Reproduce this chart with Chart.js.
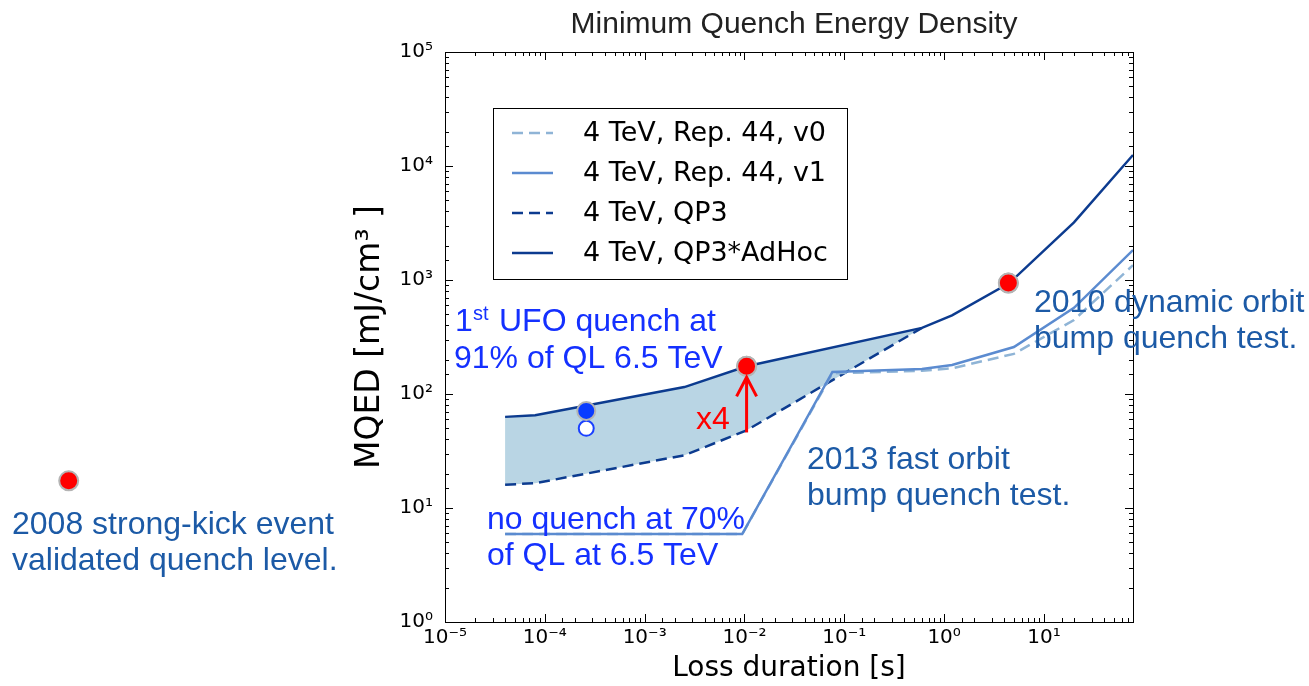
<!DOCTYPE html>
<html>
<head>
<meta charset="utf-8">
<title>Minimum Quench Energy Density</title>
<script src="https://cdn.jsdelivr.net/npm/chart.js@4.4.1/dist/chart.umd.min.js"></script>
<style>
  html, body { margin: 0; padding: 0; background: #fff; }
  canvas { display: block; }
</style>
</head>
<body>
<canvas id="mqedChart" width="1309" height="686"></canvas>
<script>
// loss duration [s] and MQED [mJ/cm3]
const durAdHoc = [4e-5, 8e-5, 2.5e-3, 1.05e-2, 0.6, 1.2, 4.5, 20, 78];
const mqedAdHoc = [63, 65, 115, 175, 380, 490, 940, 3200, 12500];
const durQP3 = [4e-5, 8e-5, 2.5e-3, 1.05e-2, 0.6];
const mqedQP3 = [16, 16.5, 29, 48, 380];
const durRep44 = [4e-5, 9.5e-3, 0.076, 0.6, 1.2, 5, 20, 78];
const mqedRep44v1 = [5.9, 5.9, 156, 166, 180, 258, 570, 1830];
const mqedRep44v0 = [5.9, 5.9, 152, 160, 168, 225, 446, 1350];

// measured events: 2013 fast bump, 2010 dynamic bump, 2008 strong kick
const eventDur = [1.05e-2, 4.4, 1.7e-9];
const eventMqed = [175, 940, 17.3];
const ufoDur = [2.6e-4];
const ufoMqed = [71];
const noQuenchMqed = [50];
const arrowDur = [1.05e-2, 1.05e-2];
const arrowMqed = [46, 140];

const legendLabels = ['4 TeV, Rep. 44, v0', '4 TeV, Rep. 44, v1', '4 TeV, QP3', '4 TeV, QP3*AdHoc'];
const xDecades = [1e-5, 1e-4, 1e-3, 1e-2, 1e-1, 1, 10];
const xDecadeLabels = ['10⁻⁵', '10⁻⁴', '10⁻³', '10⁻²', '10⁻¹', '10⁰', '10¹'];
const yDecades = [1, 10, 100, 1e3, 1e4, 1e5];
const yDecadeLabels = ['10⁰', '10¹', '10²', '10³', '10⁴', '10⁵'];

const NAVY = '#0c3b8f';
const MID = '#5b8bd0';
const LIGHT = '#8fb4d6';
const BAND = '#b9d5e4';
const TEAL = '#1c5aa6';
const BLUE = '#1430ff';
const NOTE_FONT = '32px "Liberation Sans", Arial';

const pts = (xs, ys) => xs.map((x, i) => ({x: x, y: ys[i]}));
const isDecade = v => Math.abs(Math.log10(v) - Math.round(Math.log10(v))) < 1e-6;
const labelFor = (decades, labels, v) => {
    const i = decades.findIndex(d => Math.abs(Math.log10(d) - Math.log10(v)) < 1e-6);
    return i < 0 ? '' : labels[i];
};

// frame, inward ticks, legend box, arrow head and text notes
const decorations = {
    id: 'decorations',
    afterDraw(chart) {
        const {ctx, chartArea: a, scales: {x, y}} = chart;
        ctx.save();

        // event markers that sit outside the axes (2008 kick) are skipped by the controller
        const wide = {left: -1e5, top: -1e5, right: 1e5, bottom: 1e5};
        chart.getDatasetMeta(0).data.forEach(el => el.draw(ctx, wide));

        ctx.strokeStyle = '#000';
        ctx.lineWidth = 1;
        ctx.strokeRect(a.left + 0.5, a.top + 0.5, a.right - a.left, a.bottom - a.top);
        ctx.beginPath();
        x.ticks.forEach(t => {
            const px = Math.round(x.getPixelForValue(t.value)) + 0.5;
            const len = isDecade(t.value) ? 8 : 4;
            ctx.moveTo(px, a.bottom); ctx.lineTo(px, a.bottom - len);
            ctx.moveTo(px, a.top); ctx.lineTo(px, a.top + len);
        });
        y.ticks.forEach(t => {
            const py = Math.round(y.getPixelForValue(t.value)) + 0.5;
            const len = isDecade(t.value) ? 8 : 4;
            ctx.moveTo(a.left, py); ctx.lineTo(a.left + len, py);
            ctx.moveTo(a.right, py); ctx.lineTo(a.right - len, py);
        });
        ctx.stroke();

        // legend (v0, v1, QP3, AdHoc)
        ctx.fillStyle = '#fff';
        ctx.fillRect(493, 108, 354, 171);
        ctx.strokeRect(493.5, 108.5, 354, 171);
        ctx.font = '27px "DejaVu Sans"';
        ctx.textBaseline = 'middle';
        [5, 4, 6, 7].forEach((di, k) => {
            const ds = chart.data.datasets[di];
            const yy = 133 + k * 40;
            ctx.strokeStyle = ds.borderColor;
            ctx.lineWidth = ds.borderWidth;
            ctx.setLineDash(ds.borderDash || []);
            ctx.beginPath();
            ctx.moveTo(512, yy); ctx.lineTo(553, yy);
            ctx.stroke();
            ctx.setLineDash([]);
            ctx.fillStyle = '#000';
            ctx.fillText(legendLabels[k], 583, yy + 1);
        });

        // arrow head on the x4 arrow
        const tip = chart.getDatasetMeta(3).data[1];
        ctx.strokeStyle = '#ff0000';
        ctx.lineWidth = 3;
        ctx.beginPath();
        ctx.moveTo(tip.x - 10, tip.y + 19);
        ctx.lineTo(tip.x, tip.y);
        ctx.lineTo(tip.x + 10, tip.y + 19);
        ctx.stroke();

        // title
        ctx.fillStyle = '#222';
        ctx.textBaseline = 'alphabetic';
        ctx.textAlign = 'center';
        ctx.font = '30px "Liberation Sans", Arial';
        ctx.fillText('Minimum Quench Energy Density', 794, 33);

        // notes
        ctx.textAlign = 'left';
        ctx.font = NOTE_FONT;
        const notes = [
            {lines: ['2008 strong-kick event', 'validated quench level.'], x: 12, y: 534, color: TEAL},
            {lines: ['2013 fast orbit', 'bump quench test.'], x: 807, y: 469, color: TEAL},
            {lines: ['2010 dynamic orbit', 'bump quench test.'], x: 1034, y: 312, color: TEAL},
            {lines: ['no quench at 70%', 'of QL at 6.5 TeV'], x: 487, y: 529, color: BLUE},
            {lines: ['91% of QL 6.5 TeV'], x: 454, y: 368, color: BLUE}
        ];
        notes.forEach(n => {
            ctx.fillStyle = n.color;
            n.lines.forEach((s, i) => ctx.fillText(s, n.x, n.y + i * 36));
        });
        ctx.fillStyle = BLUE;
        ctx.fillText('1', 455, 331);
        ctx.font = '20px "Liberation Sans", Arial';
        ctx.fillText('st', 473, 320);
        ctx.font = NOTE_FONT;
        ctx.fillText('UFO quench at', 499, 331);
        ctx.fillStyle = '#ff0000';
        ctx.fillText('x4', 696, 429);
        ctx.restore();
    }
};

new Chart(document.getElementById('mqedChart'), {
    type: 'line',
    data: {
        datasets: [
            {
                label: 'events',
                data: pts(eventDur, eventMqed),
                showLine: false,
                clip: false,
                pointRadius: 9.5,
                pointBackgroundColor: '#ff0000',
                pointBorderColor: '#b4b4b4',
                pointBorderWidth: 2
            },
            {
                label: 'UFO quench',
                data: pts(ufoDur, ufoMqed),
                showLine: false,
                pointRadius: 9,
                pointBackgroundColor: '#0a3cff',
                pointBorderColor: '#b4b4b4',
                pointBorderWidth: 2
            },
            {
                label: 'no quench',
                data: pts(ufoDur, noQuenchMqed),
                showLine: false,
                pointRadius: 7.5,
                pointBackgroundColor: '#ffffff',
                pointBorderColor: '#1a40ff',
                pointBorderWidth: 2
            },
            {
                label: 'x4',
                data: pts(arrowDur, arrowMqed),
                borderColor: '#ff0000',
                borderWidth: 3,
                pointRadius: 0
            },
            {
                label: legendLabels[1],
                data: pts(durRep44, mqedRep44v1),
                borderColor: MID,
                borderWidth: 2.5,
                pointRadius: 0
            },
            {
                label: legendLabels[0],
                data: pts(durRep44, mqedRep44v0),
                borderColor: LIGHT,
                borderWidth: 2.5,
                borderDash: [11, 6],
                pointRadius: 0
            },
            {
                label: legendLabels[2],
                data: pts(durQP3, mqedQP3),
                borderColor: NAVY,
                borderWidth: 2.5,
                borderDash: [11, 6],
                pointRadius: 0
            },
            {
                label: legendLabels[3],
                data: pts(durAdHoc, mqedAdHoc),
                borderColor: NAVY,
                borderWidth: 2.5,
                pointRadius: 0
            },
            {
                label: 'band',
                data: pts(durAdHoc.slice(0, durQP3.length), mqedAdHoc.slice(0, durQP3.length)),
                borderWidth: 0,
                pointRadius: 0,
                backgroundColor: BAND,
                fill: 6
            }
        ]
    },
    options: {
        responsive: false,
        animation: false,
        events: [],
        layout: {padding: {top: 52, right: 176, left: 0, bottom: 0}},
        plugins: {
            legend: {display: false},
            tooltip: {enabled: false},
            filler: {propagate: false}
        },
        scales: {
            x: {
                type: 'logarithmic',
                min: 1e-5,
                max: 78,
                grid: {display: false, drawTicks: false},
                border: {display: false},
                ticks: {
                    autoSkip: false,
                    maxRotation: 0,
                    padding: 4,
                    color: '#000',
                    font: {family: 'DejaVu Sans', size: 20},
                    callback: v => labelFor(xDecades, xDecadeLabels, v)
                },
                title: {
                    display: true,
                    text: 'Loss duration [s]',
                    color: '#000',
                    font: {family: 'DejaVu Sans', size: 28},
                    padding: {top: 0, bottom: 0}
                },
                afterFit: s => { s.height = 64; }
            },
            y: {
                type: 'logarithmic',
                min: 1,
                max: 1e5,
                grid: {display: false, drawTicks: false},
                border: {display: false},
                ticks: {
                    autoSkip: false,
                    padding: 12,
                    color: '#000',
                    font: {family: 'DejaVu Sans', size: 20},
                    callback: v => labelFor(yDecades, yDecadeLabels, v)
                },
                title: {
                    display: true,
                    text: 'MQED [mJ/cm³ ]',
                    color: '#000',
                    font: {family: 'DejaVu Sans', size: 33},
                    padding: {top: 351, bottom: 0}
                },
                afterFit: s => { s.width = 445; }
            }
        }
    },
    plugins: [decorations]
});
</script>
</body>
</html>
